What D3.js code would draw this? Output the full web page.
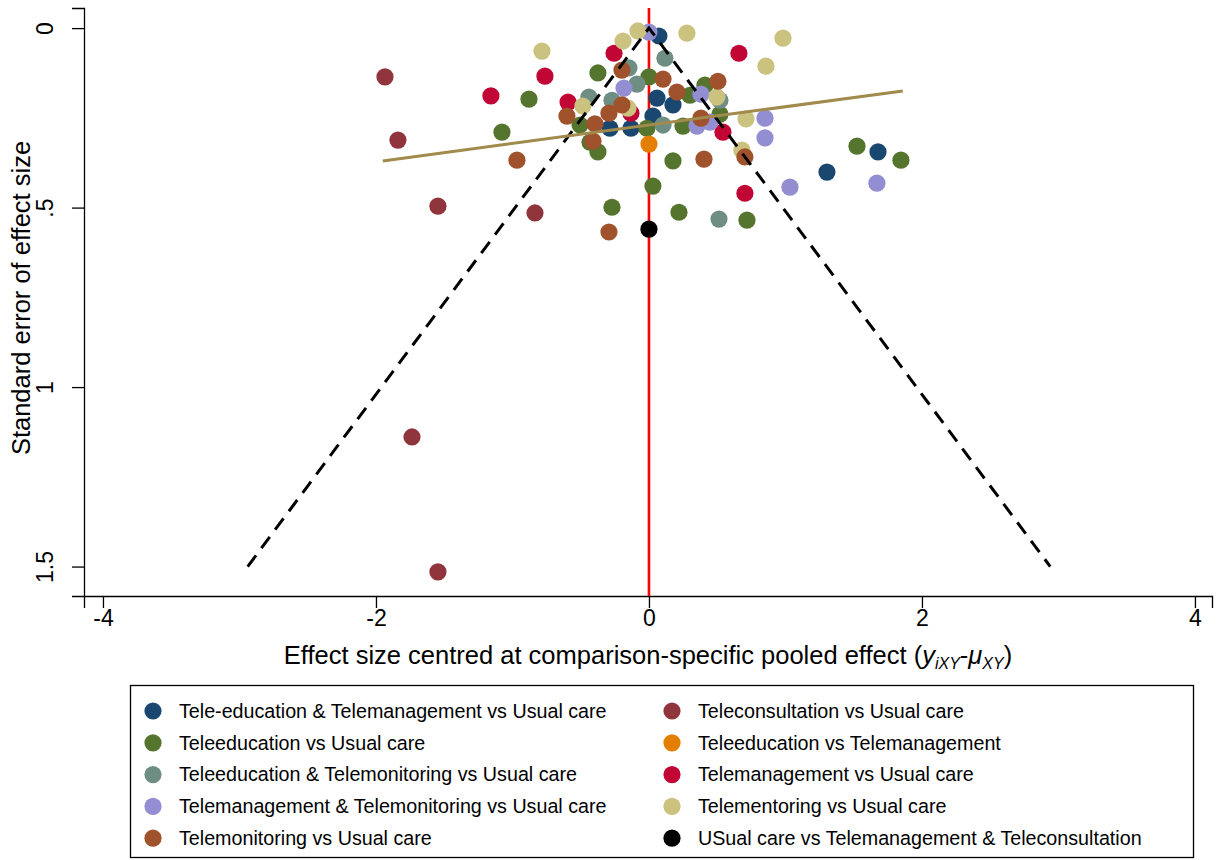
<!DOCTYPE html>
<html>
<head>
<meta charset="utf-8">
<script src="https://cdn.jsdelivr.net/npm/d3@7"></script>
<style>
  html, body { margin: 0; padding: 0; background: #fff; }
  svg { display: block; font-family: Arial, "Liberation Sans", sans-serif; }
</style>
</head>
<body>
<svg id="chart" width="1218" height="860"></svg>
<script>
// Comparison-adjusted funnel plot: each point is [centred effect size, standard error]
const teleEduMgmtVsUsual = [[0.073,0.022],[0.059,0.195],[0.176,0.214],[0.029,0.245],[-0.286,0.279],[-0.132,0.279],[1.304,0.401],[1.678,0.345]];
const teleconsultVsUsual = [[-1.934,0.136],[-1.839,0.312],[-1.546,0.496],[-0.835,0.515],[-1.736,1.139],[-1.546,1.515]];
const teleeduVsUsual = [[-0.879,0.198],[-1.077,0.290],[-0.374,0.125],[0.000,0.136],[-0.505,0.270],[-0.432,0.318],[-0.374,0.345],[-0.015,0.279],[0.249,0.273],[0.300,0.187],[0.410,0.159],[0.520,0.240],[0.176,0.370],[0.029,0.440],[-0.271,0.499],[0.220,0.513],[0.718,0.535],[1.524,0.329],[1.846,0.368]];
const teleeduVsTelemgmt = [[0.000,0.323]];
const teleEduMonVsUsual = [[-0.147,0.111],[0.117,0.084],[-0.440,0.192],[-0.088,0.156],[-0.271,0.201],[0.103,0.270],[0.513,0.532],[0.520,0.201]];
const telemgmtVsUsual = [[-1.158,0.189],[-0.762,0.134],[-0.256,0.070],[-0.593,0.206],[-0.132,0.237],[0.659,0.070],[0.542,0.290],[0.703,0.460]];
const teleMgmtMonVsUsual = [[0.000,0.011],[-0.183,0.167],[0.381,0.184],[0.352,0.273],[0.447,0.262],[0.850,0.251],[0.850,0.306],[1.033,0.443],[1.670,0.432]];
const telementoringVsUsual = [[-0.784,0.064],[-0.081,0.008],[-0.190,0.036],[0.278,0.014],[0.982,0.028],[0.857,0.106],[-0.484,0.217],[-0.154,0.223],[0.498,0.192],[0.711,0.253],[0.681,0.340]];
const telemonVsUsual = [[-0.967,0.368],[-0.601,0.245],[-0.396,0.267],[-0.410,0.315],[-0.198,0.117],[0.103,0.142],[0.205,0.178],[-0.293,0.237],[-0.198,0.214],[0.505,0.148],[0.381,0.251],[0.403,0.365],[0.703,0.359],[-0.293,0.568]];
const usualVsMgmtConsult = [[0.000,0.560]];

const seriesNames = [
  "Tele-education & Telemanagement vs Usual care",
  "Teleconsultation vs Usual care",
  "Teleeducation vs Usual care",
  "Teleeducation vs Telemanagement",
  "Teleeducation & Telemonitoring vs Usual care",
  "Telemanagement vs Usual care",
  "Telemanagement & Telemonitoring vs Usual care",
  "Telementoring vs Usual care",
  "Telemonitoring vs Usual care",
  "USual care vs Telemanagement & Teleconsultation"
];
const seriesData = [teleEduMgmtVsUsual, teleconsultVsUsual, teleeduVsUsual, teleeduVsTelemgmt,
  teleEduMonVsUsual, telemgmtVsUsual, teleMgmtMonVsUsual, telementoringVsUsual, telemonVsUsual, usualVsMgmtConsult];
const seriesColors = ["#1a476f","#90353b","#55752f","#e37e00","#6e8e84","#c10534","#938dd2","#cac27e","#a0522d","#000000"];

const xTicks = [-4, -2, 0, 2, 4];
const yTicks = [0, 0.5, 1, 1.5];
const yTickLabels = ["0", ".5", "1", "1.5"];

// Pseudo 95% limits and fitted regression line
const funnelSeMax = 1.5;
const funnelZ = 1.96;
const regX = [-1.95, 1.86];
const regY = [0.37, 0.175];

const svg = d3.select("#chart");
const x = d3.scaleLinear().domain([-4.139, 4.125]).range([84, 1212]);
const y = d3.scaleLinear().domain([-0.056, 1.582]).range([8, 596]);

// Axes
const xAxis = d3.axisBottom(x).tickValues(xTicks).tickSize(12).tickPadding(8).tickFormat(d3.format("d"));
const gx = svg.append("g").attr("transform", "translate(0,596)").call(xAxis);
gx.select(".domain").attr("stroke", "#000").attr("stroke-width", 1.3);
gx.selectAll(".tick line").attr("stroke", "#000").attr("stroke-width", 1.3);
gx.selectAll(".tick text").attr("font-size", 23).attr("fill", "#000")
  .attr("font-family", "Arial, 'Liberation Sans', sans-serif")
  .attr("y", 22).attr("dy", "0.35em")
  .text(d => d < 0 ? "-" + Math.abs(d) : d);

const yAxis = d3.axisLeft(y).tickValues(yTicks).tickSize(12).tickFormat((d, i) => yTickLabels[i]);
const gy = svg.append("g").attr("transform", "translate(84,0)").call(yAxis);
gy.select(".domain").attr("stroke", "#000").attr("stroke-width", 1.3);
gy.selectAll(".tick line").attr("stroke", "#000").attr("stroke-width", 1.3);
gy.selectAll(".tick text").attr("font-size", 23).attr("fill", "#000")
  .attr("font-family", "Arial, 'Liberation Sans', sans-serif")
  .attr("text-anchor", "middle").attr("x", null)
  .attr("transform", "translate(-39,0) rotate(-90)").attr("dy", "0.35em");

// Axis titles
svg.append("text").attr("transform", "translate(30,298) rotate(-90)")
  .attr("text-anchor", "middle").attr("font-size", 25.5).attr("fill", "#000")
  .text("Standard error of effect size");

const xt = svg.append("text").attr("x", 648).attr("y", 664)
  .attr("text-anchor", "middle").attr("font-size", 25.5).attr("fill", "#000");
xt.append("tspan").text("Effect size centred at comparison-specific pooled effect (");
xt.append("tspan").attr("font-style", "italic").text("y");
xt.append("tspan").attr("font-size", 16).attr("dy", 5).attr("font-style", "italic").text("iXY");
xt.append("tspan").attr("dy", -5).text("-");
xt.append("tspan").attr("font-style", "italic").text("μ");
xt.append("tspan").attr("font-size", 16).attr("dy", 5).attr("font-style", "italic").text("XY");
xt.append("tspan").attr("dy", -5).text(")");

// Reference line at zero
svg.append("line")
  .attr("x1", x(0)).attr("x2", x(0)).attr("y1", 8).attr("y2", 596)
  .attr("stroke", "#ff0000").attr("stroke-width", 2.6);

// Points
seriesData.forEach((pts, i) => {
  svg.append("g").selectAll("circle").data(pts).join("circle")
    .attr("cx", d => x(d[0])).attr("cy", d => y(d[1])).attr("r", 8.6)
    .attr("fill", seriesColors[i]);
});

// Pseudo confidence limits
const funnel = [[-funnelZ * funnelSeMax, funnelSeMax], [0, 0], [funnelZ * funnelSeMax, funnelSeMax]];
svg.append("path")
  .attr("d", d3.line().x(d => x(d[0])).y(d => y(d[1]))(funnel))
  .attr("fill", "none").attr("stroke", "#000").attr("stroke-width", 3)
  .attr("stroke-dasharray", "14,9");

// Fitted line
svg.append("line")
  .attr("x1", x(regX[0])).attr("y1", y(regY[0]))
  .attr("x2", x(regX[1])).attr("y2", y(regY[1]))
  .attr("stroke", "#a08a4c").attr("stroke-width", 3);

// Legend
const lg = svg.append("g");
lg.append("rect").attr("x", 130.5).attr("y", 685.5).attr("width", 1063).attr("height", 172)
  .attr("fill", "#fff").attr("stroke", "#000").attr("stroke-width", 1.3);
seriesNames.forEach((name, i) => {
  const col = i % 2, row = Math.floor(i / 2);
  const cx = col === 0 ? 153 : 672;
  const cy = 711 + row * 31.8;
  lg.append("circle").attr("cx", cx).attr("cy", cy).attr("r", 8.6).attr("fill", seriesColors[i]);
  lg.append("text").attr("x", cx + 26).attr("y", cy).attr("dy", "0.35em")
    .attr("font-size", 19.7).attr("fill", "#000").text(name);
});
</script>
</body>
</html>
